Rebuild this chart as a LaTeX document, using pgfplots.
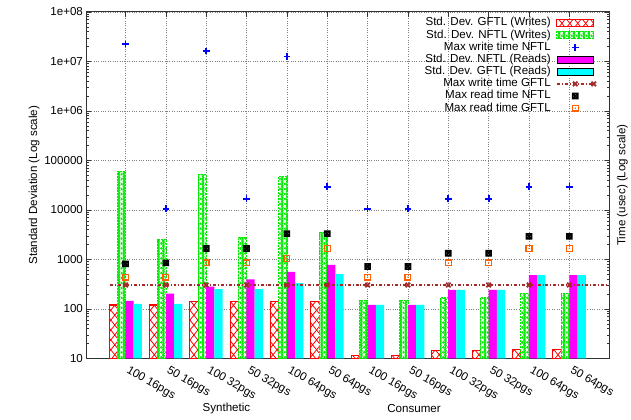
\documentclass[border=0pt]{standalone}
\usepackage{fontspec}
\setmainfont{Liberation Sans}
\usepackage{pgfplots}
\pgfplotsset{compat=1.18}
\usetikzlibrary{patterns}

\definecolor{cred}{RGB}{255,0,0}
\definecolor{cgreen}{RGB}{0,235,0}
\definecolor{cmag}{RGB}{255,0,255}
\definecolor{ccyan}{RGB}{0,255,255}
\definecolor{cblue}{RGB}{0,0,255}
\definecolor{cbrown}{RGB}{165,42,42}
\definecolor{corange}{RGB}{255,96,0}

\pgfdeclarepatternformonly{redx}{\pgfqpoint{-1pt}{-1pt}}{\pgfqpoint{9pt}{11pt}}{\pgfqpoint{8pt}{10pt}}{%
  \pgfsetlinewidth{0.8pt}%
  \pgfpathmoveto{\pgfqpoint{0pt}{0pt}}\pgfpathlineto{\pgfqpoint{8pt}{10pt}}%
  \pgfpathmoveto{\pgfqpoint{0pt}{10pt}}\pgfpathlineto{\pgfqpoint{8pt}{0pt}}%
  \pgfusepath{stroke}}
\pgfdeclarepatternformonly{greenc}{\pgfqpoint{-1.5pt}{-1.5pt}}{\pgfqpoint{6.5pt}{6.5pt}}{\pgfqpoint{5pt}{5pt}}{%
  \pgfsetlinewidth{1.1pt}%
  \pgfpathmoveto{\pgfqpoint{0pt}{0pt}}\pgfpathlineto{\pgfqpoint{5pt}{5pt}}%
  \pgfpathmoveto{\pgfqpoint{0pt}{5pt}}\pgfpathlineto{\pgfqpoint{5pt}{0pt}}%
  \pgfusepath{stroke}%
  \pgfsetlinewidth{0.7pt}%
  \pgfpathcircle{\pgfqpoint{0pt}{2.5pt}}{1pt}%
  \pgfpathcircle{\pgfqpoint{5pt}{2.5pt}}{1pt}%
  \pgfusepath{stroke}}

\pgfdeclareplotmark{boxx}{%
  \pgfpathrectangle{\pgfqpoint{-\pgfplotmarksize}{-\pgfplotmarksize}}{\pgfqpoint{2\pgfplotmarksize}{2\pgfplotmarksize}}%
  \pgfpathmoveto{\pgfqpoint{-\pgfplotmarksize}{-\pgfplotmarksize}}\pgfpathlineto{\pgfqpoint{\pgfplotmarksize}{\pgfplotmarksize}}%
  \pgfpathmoveto{\pgfqpoint{-\pgfplotmarksize}{\pgfplotmarksize}}\pgfpathlineto{\pgfqpoint{\pgfplotmarksize}{-\pgfplotmarksize}}%
  \pgfusepathqstroke}
\pgfdeclareplotmark{sqdot}{%
  \pgfpathrectangle{\pgfqpoint{-\pgfplotmarksize}{-\pgfplotmarksize}}{\pgfqpoint{2\pgfplotmarksize}{2\pgfplotmarksize}}%
  \pgfusepathqstroke
  \pgfpathcircle{\pgfpointorigin}{0.8pt}\pgfusepathqfill}
\pgfdeclareplotmark{bplus}{%
  \pgfpathmoveto{\pgfqpoint{-\pgfplotmarksize}{0pt}}\pgfpathlineto{\pgfqpoint{\pgfplotmarksize}{0pt}}%
  \pgfpathmoveto{\pgfqpoint{0pt}{-\pgfplotmarksize}}\pgfpathlineto{\pgfqpoint{0pt}{\pgfplotmarksize}}%
  \pgfusepathqstroke}

\pgfplotsset{
  barleg/.style={legend image code/.code={\draw[##1] (0bp,-3.6bp) rectangle (37bp,3.6bp);}},
  lineleg/.style={legend image code/.code={\draw[mark repeat=2,mark phase=2,##1] plot coordinates {(0bp,0bp) (18.5bp,0bp) (37bp,0bp)};}},
}

\begin{document}
\begin{tikzpicture}[font=\fontsize{11.7}{13}\selectfont]
\begin{axis}[
  scale only axis, width=527bp, height=349bp,
  ymode=log, log origin=infty,
  ymin=10, ymax=1e8,
  xmin=-0.97, xmax=12.0,
  clip=false,
  ytick={10,100,1000,10000,100000,1000000,10000000,100000000},
  yticklabels={10,100,1000,10000,100000,1e+06,1e+07,1e+08},
  minor ytick={20,30,40,50,60,70,80,90,200,300,400,500,600,700,800,900,2000,3000,4000,5000,6000,7000,8000,9000,20000,30000,40000,50000,60000,70000,80000,90000,200000,300000,400000,500000,600000,700000,800000,900000,2000000,3000000,4000000,5000000,6000000,7000000,8000000,9000000,20000000,30000000,40000000,50000000,60000000,70000000,80000000,90000000},
  xtick={0,...,11},
  xticklabels={100 16pgs,50 16pgs,100 32pgs,50 32pgs,100 64pgs,50 64pgs,100 16pgs,50 16pgs,100 32pgs,50 32pgs,100 64pgs,50 64pgs},
  xticklabel style={xshift=4.5pt,yshift=-6.5pt,rotate=-30,anchor=north west,inner sep=0pt},
  /pgf/number format/assume math mode=true,
  major tick length=5bp, minor tick length=3bp,
  tick style={black!80, line width=0.6pt},
  axis line style={black!80, line width=1.1pt},
  xmajorgrids, ymajorgrids,
  major grid style={gray, line width=0.6pt, dash pattern=on 0.8pt off 1.6pt},
  ylabel={Standard Deviation (Log scale)},
  ylabel style={yshift=-2pt},
  legend style={draw=none, fill=none, at={(0.974,0.986)}, anchor=north east,
    inner sep=0pt, row sep=0pt, column sep=5pt,
    nodes={inner sep=0.6pt, text height=8.5pt, text depth=2.6pt}},
  legend cell align=right, legend plot pos=right,
]
\coordinate (bl) at (rel axis cs:0,0);
\addplot[ybar, bar width=0.205, bar shift=-0.305, draw=cred, line width=1.1pt, fill=white,
  postaction={pattern=redx, pattern color=cred}, barleg]
  coordinates {(0,120)(1,120)(2,141)(3,141)(4,141)(5,141)(6,11.6)(7,11.6)(8,14.3)(9,14.3)(10,14.9)(11,14.9)};
\addlegendentry{Std. Dev. GFTL (Writes)}
\addplot[ybar, bar width=0.205, bar shift=-0.1, draw=cgreen, line width=0.9pt, dash pattern=on 2pt off 1pt, fill=white,
  postaction={pattern=greenc, pattern color=cgreen}, barleg]
  coordinates {(0,60000)(1,2520)(2,52000)(3,2840)(4,47000)(5,3520)(6,150)(7,150)(8,167)(9,167)(10,204)(11,204)};
\addlegendentry{Std. Dev. NFTL (Writes)}
\addplot[only marks, mark=bplus, mark size=3.3bp, line width=1.7pt, draw=cblue, color=cblue, mark options={draw=cblue, solid}, lineleg]
  coordinates {(0,22500000)(1,10600)(2,16200000)(3,16900)(4,12500000)(5,29500)(6,10600)(7,10600)(8,16900)(9,16900)(10,29500)(11,29500)};
\addlegendentry{Max write time NFTL}
\addplot[ybar, bar width=0.205, bar shift=0.1, draw=none, fill=cmag, barleg]
  coordinates {(0,146)(1,204)(2,282)(3,396)(4,563)(5,778)(6,121)(7,121)(8,242)(9,242)(10,484)(11,484)};
\addlegendentry{Std. Dev. NFTL (Reads)}
\addplot[ybar, bar width=0.205, bar shift=0.305, draw=none, fill=ccyan, barleg]
  coordinates {(0,127)(1,127)(2,253)(3,253)(4,334)(5,507)(6,121)(7,121)(8,242)(9,242)(10,484)(11,484)};
\addlegendentry{Std. Dev. GFTL (Reads)}
\addplot[color=cbrown, line width=1.3pt, dash pattern=on 3pt off 2pt on 1pt off 2pt,
  mark=x, mark size=3.2bp, mark options={solid, line width=1.8pt}, mark indices={2,...,13}, lineleg]
  coordinates {(-0.38,305)(0,305)(1,305)(2,305)(3,305)(4,305)(5,305)(6,305)(7,305)(8,305)(9,305)(10,305)(11,305)(12,305)};
\addlegendentry{Max write time GFTL}
\addplot[only marks, mark=boxx, mark size=2.6bp, line width=1.5pt, color=black, lineleg]
  coordinates {(0,815)(1,853)(2,1660)(3,1660)(4,3320)(5,3320)(6,723)(7,723)(8,1337)(9,1337)(10,2930)(11,2930)};
\addlegendentry{Max read time NFTL}
\addplot[only marks, mark=sqdot, mark size=2.9bp, line width=1.3pt, color=corange, lineleg]
  coordinates {(0,441)(1,441)(2,853)(3,853)(4,1047)(5,1680)(6,441)(7,441)(8,853)(9,853)(10,1680)(11,1680)};
\addlegendentry{Max read time GFTL}
\node[anchor=center] at (axis cs:2.5,10) [yshift=-50bp] {Synthetic};
\node[anchor=center] at (axis cs:7.15,10) [yshift=-50bp] {Consumer};
\node[xshift=12.7bp, rotate=90, anchor=center] at (rel axis cs:1,0.5) {Time (usec) (Log scale)};
\end{axis}
\path (bl) ++(-87bp,-61bp) rectangle ++(631bp,422bp);
\end{tikzpicture}
\end{document}
